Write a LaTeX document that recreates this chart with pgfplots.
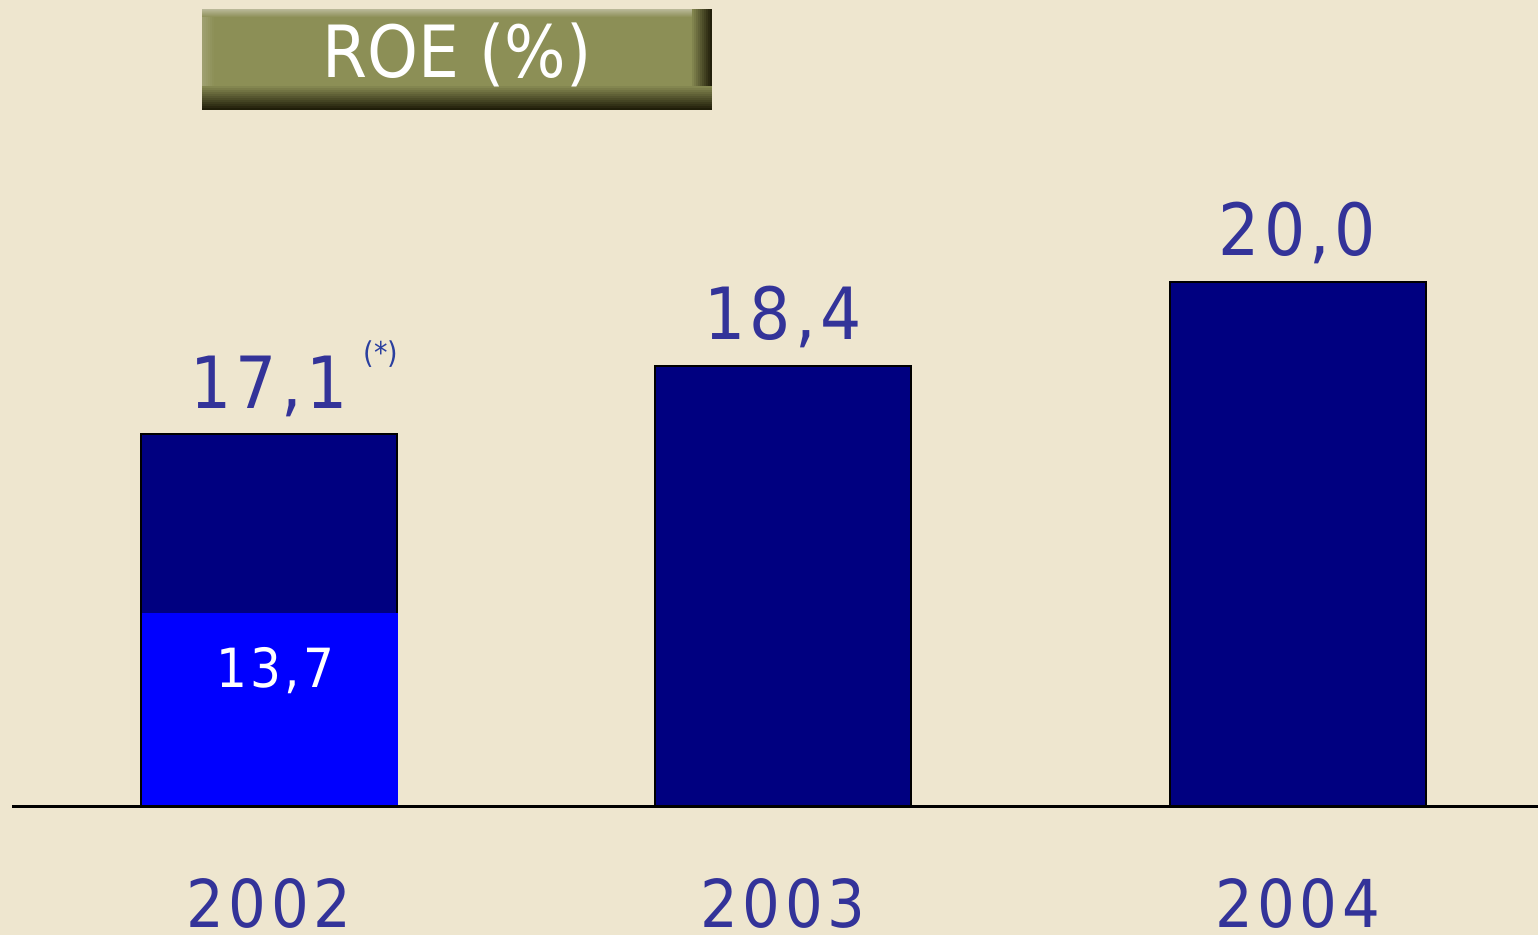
\documentclass[border=0pt]{standalone}
\usepackage{pgfplots}
\pgfplotsset{compat=1.18}
\usepackage{fontspec}
\setmainfont{DejaVu Sans Condensed}
\newfontfamily\numfont[LetterSpace=6]{DejaVu Sans Condensed}
\newfontfamily\yearfont[LetterSpace=7]{DejaVu Sans Condensed}
\definecolor{bg}{HTML}{EEE6CF}
\definecolor{navybar}{HTML}{000080}
\definecolor{bluebar}{HTML}{0000FF}
\definecolor{lbl}{HTML}{333399}
\definecolor{star}{HTML}{2A3F9F}
\definecolor{olive}{HTML}{8C8F56}
\definecolor{olivelight}{HTML}{B9B898}
\definecolor{olivedark}{HTML}{1C1906}
\begin{document}
\begin{tikzpicture}
\begin{scope}[x=0.5pt,y=0.5pt]
\fill[bg] (0,0) rectangle (1538,935);
\end{scope}
\begin{axis}[
  at={(0,0)}, anchor=south west,
  scale only axis, width=769pt, height=467.5pt,
  xmin=0, xmax=1538, ymin=-2.4381, ymax=15.3714,
  y filter/.expression={y-10},
  axis line style={draw=none},
  tick style={draw=none},
  major tick length=0pt,
  ytick=\empty,
  xtick={269,783,1297.5},
  xticklabels={2002,2003,2004},
  xticklabel style={anchor=base, yshift=3.5pt, inner sep=0pt,
    font=\yearfont\fontsize{33}{36}\selectfont, text=lbl},
]
\addplot[ybar, bar width=256, bar shift=0pt, fill=navybar, draw=black, line width=1pt,
  point meta=explicit symbolic, nodes near coords,
  every node near coord/.append style={anchor=base, yshift=13pt, inner sep=0pt,
    font=\numfont\fontsize{36}{40}\selectfont, text=lbl}]
  coordinates {(269,17.1) [17,1] (783,18.4) [18,4] (1297.5,20.0) [20,0]};
\addplot[ybar, bar width=256, bar shift=0pt, fill=bluebar, draw=none]
  coordinates {(269.5,13.7)};
\addplot[sharp plot, black, line width=1.5pt, mark=none]
  coordinates {(12,10) (1538,10)};
\end{axis}
\begin{scope}[x=0.5pt,y=0.5pt]
% title box
\fill[olive] (202,826) rectangle (712,926);
% top light band
\foreach \i in {0,...,7}{
  \pgfmathsetmacro\p{100-\i*12.5}
  \fill[olivelight!\p!olive] (202,{926-\i}) rectangle (712,{925-\i});
}
% left light band
\foreach \i in {0,...,5}{
  \pgfmathsetmacro\p{40-\i*7}
  \fill[olivelight!\p!olive] ({202+\i*2},826) rectangle ({204+\i*2},918);
}
% right dark band
\foreach \i in {0,...,9}{
  \pgfmathsetmacro\p{(\i+1)*9.5}
  \fill[olivedark!\p!olive] ({692+\i*2},826) rectangle ({694+\i*2},926);
}
% bottom dark band
\foreach \i in {0,...,11}{
  \pgfmathsetmacro\p{(\i+1)*8}
  \fill[olivedark!\p!olive] (202,{849-\i*2}) rectangle (712,{847-\i*2});
}
\node[anchor=base, inner sep=0pt, text=white, font=\fontsize{36}{40}\selectfont] at (457,857) {ROE (\%)};
% annotations
\node[anchor=base, inner sep=0pt, text=star, font=\fontsize{15}{18}\selectfont] at (381,571) {(*)};
\node[anchor=base, inner sep=0pt, text=white, font=\numfont\fontsize{27}{30}\selectfont] at (275,247) {13,7};
\end{scope}
\end{tikzpicture}
\end{document}
